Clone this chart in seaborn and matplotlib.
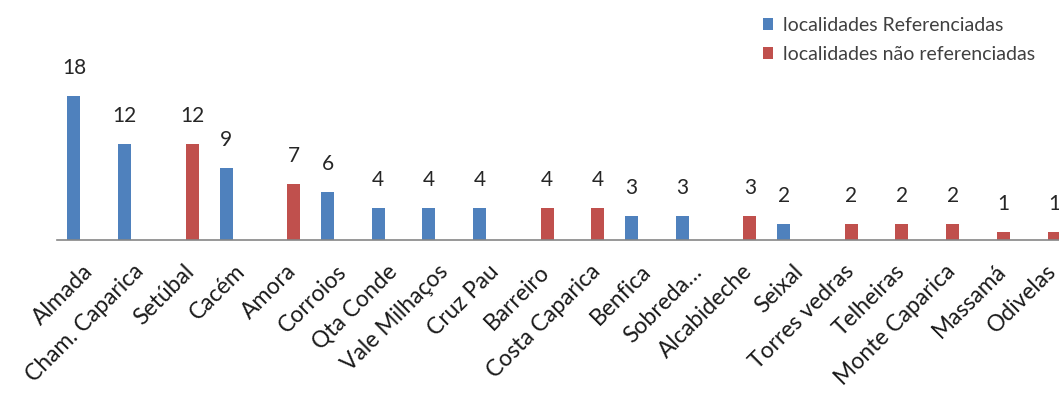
import matplotlib
matplotlib.use("Agg")
import matplotlib.pyplot as plt
import seaborn as sns
import pandas as pd

categories = ["Almada", "Cham. Caparica", "Setúbal", "Cacém", "Amora", "Corroios",
              "Qta Conde", "Vale Milhaços", "Cruz Pau", "Barreiro", "Costa Caparica",
              "Benfica", "Sobreda…", "Alcabideche", "Seixal", "Torres vedras",
              "Telheiras", "Monte Caparica", "Massamá", "Odivelas"]
referenciadas = [18, 12, 0, 9, 0, 6, 4, 4, 4, 0, 0, 3, 3, 0, 2, 0, 0, 0, 0, 0]
nao_referenciadas = [0, 0, 12, 0, 7, 0, 0, 0, 0, 4, 4, 0, 0, 3, 0, 2, 2, 2, 1, 1]
series_names = ["localidades Referenciadas", "localidades não referenciadas"]
colors = ["#4F81BD", "#C0504D"]

rows = []
for c, a, b in zip(categories, referenciadas, nao_referenciadas):
    rows.append({"cat": c, "serie": series_names[0], "valor": a})
    rows.append({"cat": c, "serie": series_names[1], "valor": b})
df = pd.DataFrame(rows)

sns.set_theme(style="white")
plt.rcParams["font.family"] = ["Lato", "DejaVu Sans"]

W, H = 1059, 394
fig = plt.figure(figsize=(W / 100, H / 100), dpi=100)
ax = fig.add_axes([57 / W, (H - 240) / H, 1014 / W, 160 / H])

sns.barplot(data=df, x="cat", y="valor", hue="serie", order=categories,
            hue_order=series_names, palette=colors, width=0.663, gap=0.23,
            dodge=True, errorbar=None, linewidth=0, saturation=1, ax=ax)

for cont, vals in zip(ax.containers, [referenciadas, nao_referenciadas]):
    ax.bar_label(cont, labels=[str(v) if v > 0 else "" for v in vals],
                 padding=13, fontsize=15, color="#262626")

ax.set_xlim(-0.5, 19.5)
ax.set_ylim(0, 20)
ax.set_xlabel("")
ax.set_ylabel("")
ax.set_yticks([])
for s in ["top", "right", "left"]:
    ax.spines[s].set_visible(False)
ax.spines["bottom"].set_color("#868686")
ax.spines["bottom"].set_linewidth(1.2)
ax.tick_params(axis="x", length=0, pad=15)
ax.set_xticks(range(len(categories)))
ax.set_xticklabels(categories, rotation=45, ha="right", va="top",
                   rotation_mode="anchor", fontsize=16.5, color="#1a1a1a")

handles, labels = ax.get_legend_handles_labels()
ax.legend(handles, labels, loc="upper left", bbox_to_anchor=(755 / W, 1 - 9 / H),
          bbox_transform=fig.transFigure, frameon=False, fontsize=14,
          handlelength=0.55, handleheight=0.55, handletextpad=0.5,
          labelspacing=0.62, labelcolor="#404040", borderaxespad=0)

fig.savefig("out.png", dpi=100)
